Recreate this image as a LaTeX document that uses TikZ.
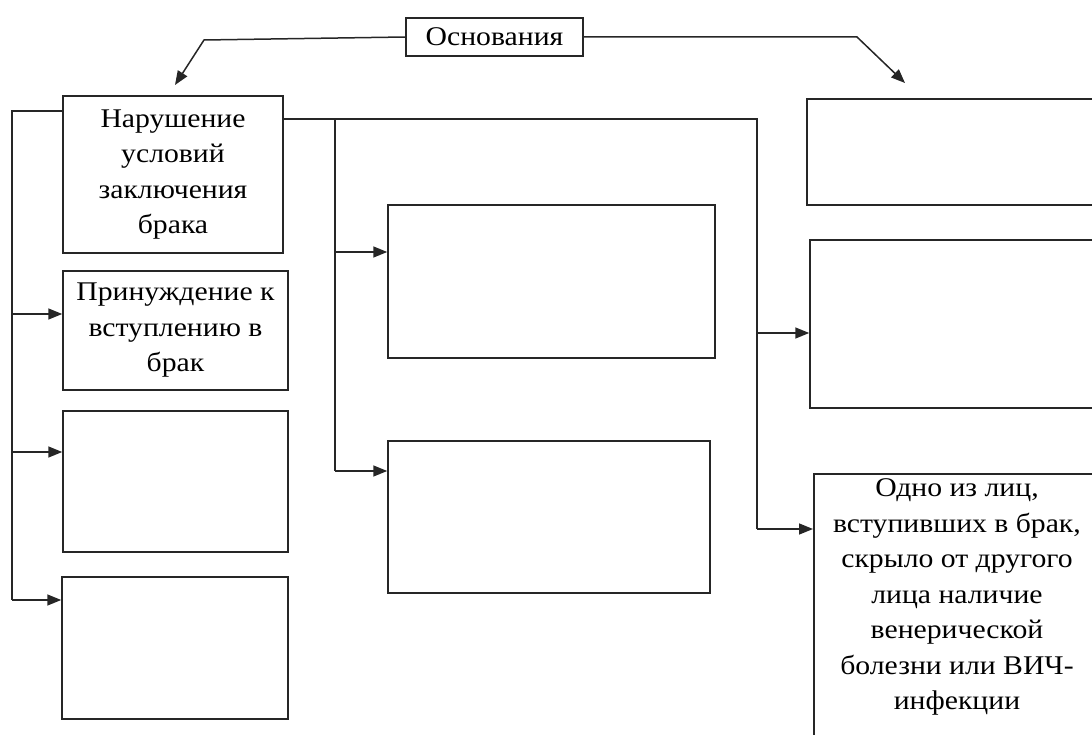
\documentclass[tikz,border=0pt]{standalone}
\usepackage{fontspec}
\setmainfont{Liberation Serif}[FakeStretch=1.1]
\usetikzlibrary{positioning,arrows.meta}

\begin{document}
\begin{tikzpicture}[x=1pt,y=-1pt,line width=1.5pt,draw=black!85,
    every node/.style={font=\fontsize{27}{35.5}\selectfont},
    box/.style={draw,align=center,inner sep=0pt},
    arr/.style={-{Triangle[length=14pt,width=11pt]}}]
    \useasboundingbox (0,0) rectangle (1092,735);
    % top
    \node[box,minimum width=177pt,minimum height=38pt] (osn) at (494.5,37) {Основания};
    % left column
    \node[box,minimum width=220pt,minimum height=157pt] (brk) at (173,174.5)
      {Нарушение\\условий\\заключения\\брака};
    \node[box,minimum width=225pt,minimum height=119pt] (prin) at (175.5,330.5)
      {Принуждение к\\вступлению в\\брак};
    \node[box,minimum width=225pt,minimum height=141pt] (lb3) at (175.5,481.5) {};
    \node[box,minimum width=226pt,minimum height=142pt] (lb4) at (175,648) {};
    % middle column
    \node[box,minimum width=327pt,minimum height=153pt] (mb1) at (551.5,281.5) {};
    \node[box,minimum width=322pt,minimum height=152pt] (mb2) at (549,517) {};
    % right column
    \node[box,minimum width=293pt,minimum height=106pt] (rb1) at (953.5,152) {};
    \node[box,minimum width=290pt,minimum height=168pt] (rb2) at (955,324) {};
    \node[box,minimum width=287pt,minimum height=287pt,anchor=north west] (rb3) at (813,473) {};
    \node[align=center,anchor=north] (rb3t) at (957,475)
      {Одно из лиц,\\вступивших в брак,\\скрыло от другого\\лица наличие\\венерической\\болезни или ВИЧ-\\инфекции};
    % connectors from the top
    \coordinate (tl) at (204,40);
    \coordinate (tr) at (857,37);
    \draw[arr] (osn.west) -- (tl) -- (175,85);
    \draw[arr] (osn.east) -- (tr) -- (905,83);
    % left bus
    \coordinate (ltop) at (12,111);
    \coordinate (l1) at (12,314);
    \coordinate (l2) at (12,452);
    \coordinate (l3) at (12,600);
    \draw (brk.west |- ltop) -- (ltop) -- (l3);
    \draw[arr] (l1) -- (l1 -| prin.west);
    \draw[arr] (l2) -- (l2 -| lb3.west);
    \draw[arr] (l3) -- (l3 -| lb4.west);
    % right and middle buses
    \coordinate (rtop) at (757,119);
    \coordinate (mtop) at (335,119);
    \coordinate (r1) at (757,333);
    \coordinate (r2) at (757,529);
    \coordinate (m1) at (335,252);
    \coordinate (m2) at (335,471);
    \draw (brk.east |- rtop) -- (rtop) -- (r2);
    \draw (mtop) -- (m2);
    \draw[arr] (r1) -- (r1 -| rb2.west);
    \draw[arr] (r2) -- (r2 -| rb3.west);
    \draw[arr] (m1) -- (m1 -| mb1.west);
    \draw[arr] (m2) -- (m2 -| mb2.west);
\end{tikzpicture}
\end{document}
